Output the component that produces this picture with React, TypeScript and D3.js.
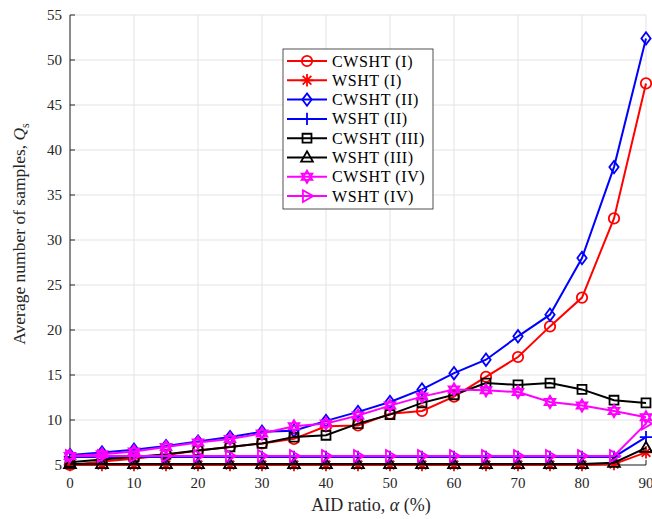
import React from "react";
import { scaleLinear, line, range } from "d3";

const alphas = range(0, 91, 5);
const yTicks = [5, 10, 15, 20, 25, 30, 35, 40, 45, 50, 55];
const xTicks = [0, 10, 20, 30, 40, 50, 60, 70, 80, 90];

const cwshtI = [5.0, 5.4, 5.7, 6.1, 6.6, 7.0, 7.4, 7.9, 9.3, 9.4, 10.7, 11.0, 12.6, 14.8, 17.0, 20.4, 23.6, 32.4, 47.4];
const wshtI = [5.0, 5.0, 5.0, 5.0, 5.0, 5.0, 5.0, 5.0, 5.0, 5.0, 5.0, 5.0, 5.0, 5.0, 5.0, 5.0, 5.0, 5.1, 6.4];
const cwshtII = [6.1, 6.4, 6.7, 7.1, 7.6, 8.1, 8.7, 8.8, 9.9, 10.9, 12.0, 13.4, 15.2, 16.7, 19.3, 21.7, 28.0, 38.1, 52.4];
const wshtII = [5.9, 5.9, 5.9, 5.9, 5.9, 5.9, 5.9, 5.9, 5.9, 5.9, 5.9, 5.9, 5.9, 5.9, 5.9, 5.9, 5.9, 5.9, 8.1];
const cwshtIII = [5.3, 5.6, 5.9, 6.2, 6.6, 7.0, 7.4, 8.1, 8.3, 9.6, 10.6, 11.9, 12.8, 14.1, 13.9, 14.1, 13.4, 12.2, 11.9];
const wshtIII = [5.1, 5.1, 5.1, 5.1, 5.1, 5.1, 5.1, 5.1, 5.1, 5.1, 5.1, 5.1, 5.1, 5.1, 5.1, 5.1, 5.1, 5.25, 6.9];
const cwshtIV = [6.0, 6.2, 6.5, 7.0, 7.5, 7.9, 8.5, 9.3, 9.6, 10.5, 11.6, 12.6, 13.4, 13.3, 13.1, 12.0, 11.6, 11.0, 10.3];
const wshtIV = [6.0, 6.0, 6.0, 6.0, 6.0, 6.0, 6.0, 6.0, 6.0, 6.0, 6.0, 6.0, 6.0, 6.0, 6.0, 6.0, 6.0, 6.0, 9.6];

const series = [
  { name: "CWSHT (I)", values: cwshtI, color: "#ff0000", marker: "circle" },
  { name: "WSHT (I)", values: wshtI, color: "#ff0000", marker: "asterisk" },
  { name: "CWSHT (II)", values: cwshtII, color: "#0000ff", marker: "diamond" },
  { name: "WSHT (II)", values: wshtII, color: "#0000ff", marker: "plus" },
  { name: "CWSHT (III)", values: cwshtIII, color: "#000000", marker: "square" },
  { name: "WSHT (III)", values: wshtIII, color: "#000000", marker: "triangle" },
  { name: "CWSHT (IV)", values: cwshtIV, color: "#ff00ff", marker: "hexagram" },
  { name: "WSHT (IV)", values: wshtIV, color: "#ff00ff", marker: "triangleRight" },
];

const FONT = "'Liberation Serif', 'Times New Roman', serif";

function markerPath(type: string, s: number) {
  switch (type) {
    case "diamond":
      return `M0,${-s}L${s * 0.75},0L0,${s}L${-s * 0.75},0Z`;
    case "square":
      return `M${-s * 0.72},${-s * 0.72}H${s * 0.72}V${s * 0.72}H${-s * 0.72}Z`;
    case "triangle":
      return `M0,${-s}L${s * 0.95},${s * 0.65}H${-s * 0.95}Z`;
    case "triangleRight":
      return `M${s},0L${-s * 0.65},${-s * 0.95}V${s * 0.95}Z`;
    case "plus":
      return `M${-s},0H${s}M0,${-s}V${s}`;
    case "asterisk": {
      const d = s * 0.7;
      return `M${-s},0H${s}M0,${-s}V${s}M${-d},${-d}L${d},${d}M${-d},${d}L${d},${-d}`;
    }
    case "hexagram": {
      const r = s;
      const pts = (off: number) =>
        range(3)
          .map((i) => {
            const a = off + (i * 2 * Math.PI) / 3;
            return `${i === 0 ? "M" : "L"}${r * Math.sin(a)},${-r * Math.cos(a)}`;
          })
          .join("") + "Z";
      return pts(0) + pts(Math.PI);
    }
    default:
      return "";
  }
}

function Marker({ type, x, y, color }: { type: string; x: number; y: number; color: string }) {
  if (type === "circle") {
    return <circle cx={x} cy={y} r={5.2} fill="none" stroke={color} strokeWidth={1.8} />;
  }
  return (
    <path
      d={markerPath(type, 6.2)}
      transform={`translate(${x},${y})`}
      fill="none"
      stroke={color}
      strokeWidth={1.8}
    />
  );
}

export default function App() {
  const width = 652;
  const height = 519;
  const margin = { left: 70, right: 6, top: 15, bottom: 54 };

  const x = scaleLinear().domain([0, 90]).range([margin.left, width - margin.right]);
  const y = scaleLinear().domain([5, 55]).range([height - margin.bottom, margin.top]);

  const lineGen = line<number>()
    .x((_, i) => x(alphas[i]))
    .y((d) => y(d));

  const legendX = 283;
  const legendY = 49;
  const rowH = 19.3;

  return (
    <svg
      width={width}
      height={height}
      style={{ position: "absolute", left: 0, top: 0, background: "#fff" }}
      fontFamily={FONT}
    >
      {/* grid */}
      <g stroke="#e3e3e3" strokeWidth={1}>
        {xTicks.map((t) => (
          <line key={"gx" + t} x1={x(t)} x2={x(t)} y1={y(5)} y2={y(55)} />
        ))}
        {yTicks.map((t) => (
          <line key={"gy" + t} x1={x(0)} x2={x(90)} y1={y(t)} y2={y(t)} />
        ))}
      </g>

      {/* axes */}
      <g stroke="#262626" strokeWidth={1}>
        <line x1={x(0)} x2={x(90)} y1={y(5)} y2={y(5)} />
        <line x1={x(0)} x2={x(0)} y1={y(5)} y2={y(55)} />
        {xTicks.map((t) => (
          <line key={"tx" + t} x1={x(t)} x2={x(t)} y1={y(5)} y2={y(5) - 5} />
        ))}
        {yTicks.map((t) => (
          <line key={"ty" + t} x1={x(0)} x2={x(0) + 5} y1={y(t)} y2={y(t)} />
        ))}
      </g>

      <g fill="#262626" fontSize={15}>
        {xTicks.map((t) => (
          <text key={"lx" + t} x={x(t)} y={y(5) + 23} textAnchor="middle">
            {t}
          </text>
        ))}
        {yTicks.map((t) => (
          <text key={"ly" + t} x={x(0) - 8} y={y(t) + 5} textAnchor="end">
            {t}
          </text>
        ))}
      </g>

      <text x={371} y={511} textAnchor="middle" fontSize={18} fill="#262626">
        AID ratio, <tspan fontStyle="italic">α</tspan> (%)
      </text>
      <text
        transform={`translate(25,234) rotate(-90)`}
        textAnchor="middle"
        fontSize={17.5}
        fill="#262626"
      >
        Average number of samples, <tspan fontStyle="italic">Q</tspan>
        <tspan fontSize={12} dy={4}>s</tspan>
      </text>

      {/* series */}
      {series.map((s) => (
        <g key={s.name}>
          <path d={lineGen(s.values) || ""} fill="none" stroke={s.color} strokeWidth={2} />
          {s.values.map((v, i) => (
            <Marker key={i} type={s.marker} x={x(alphas[i])} y={y(v)} color={s.color} />
          ))}
        </g>
      ))}

      {/* legend */}
      <g>
        <rect x={legendX} y={legendY} width={150} height={160} fill="#fff" stroke="#262626" strokeWidth={0.8} />
        {series.map((s, i) => {
          const cy = legendY + 12 + i * rowH;
          return (
            <g key={"lg" + s.name}>
              <line x1={legendX + 4} x2={legendX + 44} y1={cy} y2={cy} stroke={s.color} strokeWidth={2} />
              <Marker type={s.marker} x={legendX + 24} y={cy} color={s.color} />
              <text x={legendX + 49} y={cy + 5.5} fontSize={16} letterSpacing={0.6} fill="#000">
                {s.name}
              </text>
            </g>
          );
        })}
      </g>
    </svg>
  );
}
